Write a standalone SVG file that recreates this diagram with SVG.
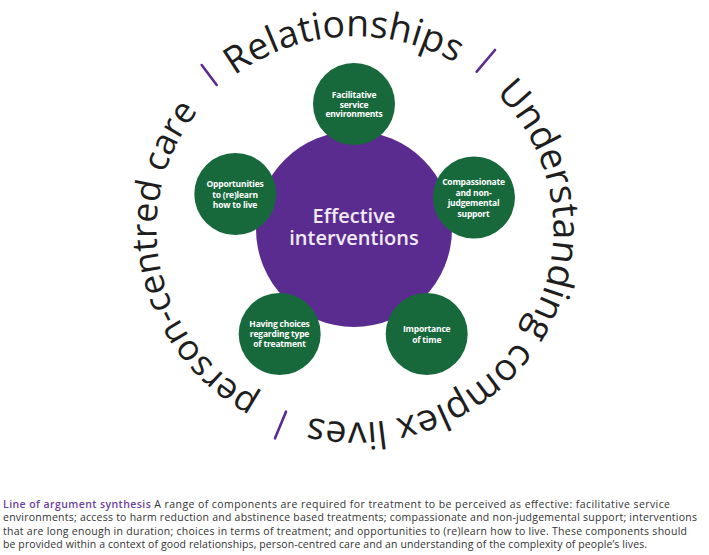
<svg xmlns="http://www.w3.org/2000/svg" xmlns:xlink="http://www.w3.org/1999/xlink" width="709" height="555" viewBox="0 0 709 555">
<style>
.ring{font-family:"Open Sans","Noto Sans","DejaVu Sans",sans-serif;font-weight:500;fill:#1e1e1e}
.slash{stroke:#5b2c8f;stroke-width:2.6;stroke-linecap:round}
.green{fill:#17693c}
.gt{font-family:"Open Sans","Noto Sans",sans-serif;font-size:8.5px;font-weight:700;fill:#ffffff;text-anchor:middle;letter-spacing:-0.2px}
.ct{font-family:"Open Sans","Noto Sans",sans-serif;font-size:20px;font-weight:600;fill:#f1e9f6;text-anchor:middle}
.cap{font-family:"Open Sans","Noto Sans",sans-serif;font-size:10.5px;fill:#333333}
.capH{fill:#6b3fa0;font-weight:600}
</style>
<defs>
<path id="ringPath" d="M287.28,410.86 A198,193 0 1,1 422.72,48.14 A198,193 0 1,1 287.28,410.86"/>
</defs>
<rect width="709" height="555" fill="#ffffff"/>
<g id="ring-text">
<text class="ring" font-size="35.5"><textPath xlink:href="#ringPath" href="#ringPath" startOffset="2.5%">person-centred care</textPath></text>
<text class="ring" font-size="37.5"><textPath xlink:href="#ringPath" href="#ringPath" startOffset="33.9%">Relationships</textPath></text>
<text class="ring" font-size="37.6"><textPath xlink:href="#ringPath" href="#ringPath" startOffset="57%">Understanding complex lives</textPath></text>
<line class="slash" x1="201.7" y1="65" x2="216.7" y2="85"/>
<line class="slash" x1="476.7" y1="71.7" x2="495" y2="50"/>
<line class="slash" x1="275" y1="438.3" x2="286" y2="411.7"/>
</g>
<g id="connectors"></g>
<g id="center">
<circle cx="354" cy="229" r="98" fill="#5b2c8f"/>
<text class="ct" x="354" y="223">Effective</text>
<text class="ct" x="354" y="245">interventions</text>
</g>
<g id="n-facilitative">
<circle class="green" cx="354" cy="104" r="41"/>
<text class="gt" x="354" y="98">Facilitative</text>
<text class="gt" x="354" y="107.5">service</text>
<text class="gt" x="354" y="117">environments</text>
</g>
<g id="n-compassionate">
<circle class="green" cx="474" cy="197.5" r="41"/>
<text class="gt" x="473.5" y="185">Compassionate</text>
<text class="gt" x="473.5" y="195.5">and non-</text>
<text class="gt" x="473.5" y="206">judgemental</text>
<text class="gt" x="473.5" y="216.5">support</text>
</g>
<g id="n-time">
<circle class="green" cx="426.7" cy="334" r="41"/>
<text class="gt" x="426.7" y="331.5">Importance</text>
<text class="gt" x="426.7" y="342.5">of time</text>
</g>
<g id="n-choices">
<circle class="green" cx="279.7" cy="334" r="41"/>
<text class="gt" x="279.5" y="326.5">Having choices</text>
<text class="gt" x="279.5" y="337">regarding type</text>
<text class="gt" x="279.5" y="347">of treatment</text>
</g>
<g id="n-opportunities">
<circle class="green" cx="235.3" cy="194" r="41"/>
<text class="gt" x="235" y="187">Opportunities</text>
<text class="gt" x="235" y="197.5">to (re)learn</text>
<text class="gt" x="235" y="208">how to live</text>
</g>
<g id="caption">
<text class="cap" x="3" y="507.5" textLength="667" lengthAdjust="spacing"><tspan class="capH">Line of argument synthesis</tspan> A range of components are required for treatment to be perceived as effective: facilitative service</text>
<text class="cap" x="3" y="521" textLength="694" lengthAdjust="spacing">environments; access to harm reduction and abstinence based treatments; compassionate and non-judgemental support; interventions</text>
<text class="cap" x="3" y="534.5" textLength="684" lengthAdjust="spacing">that are long enough in duration; choices in terms of treatment; and opportunities to (re)learn how to live. These components should</text>
<text class="cap" x="3" y="548" textLength="644" lengthAdjust="spacing">be provided within a context of good relationships, person-centred care and an understanding of the complexity of people’s lives.</text>
</g>
</svg>
